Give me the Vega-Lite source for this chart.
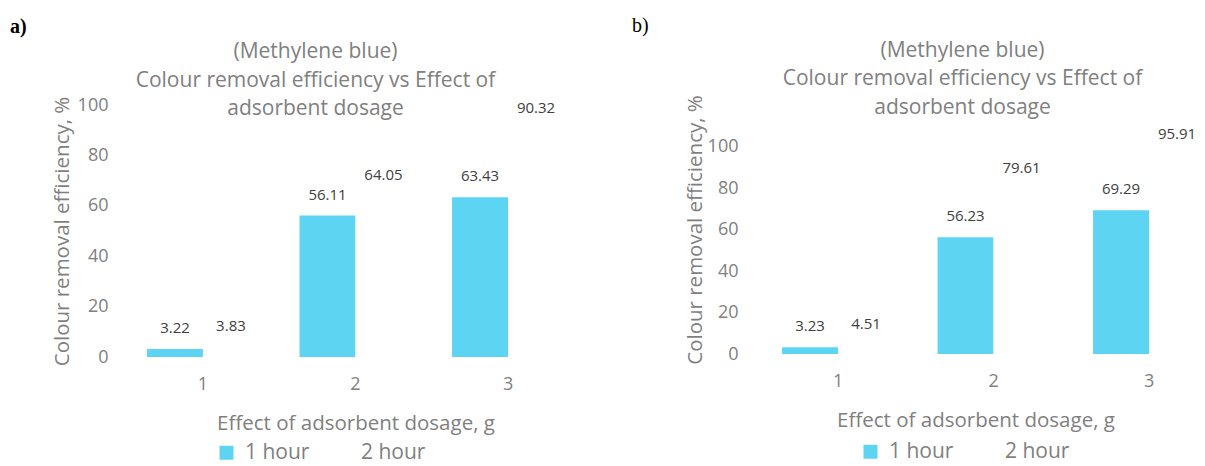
{
  "$schema": "https://vega.github.io/schema/vega-lite/v6.json",
  "background": "white",
  "padding": {"left": 10, "top": 15, "right": 0, "bottom": 0},
  "datasets": {
    "a": [
      {"dosage": 1, "time": "1 hour", "value": 3.22},
      {"dosage": 1, "time": "2 hour", "value": 3.83},
      {"dosage": 2, "time": "1 hour", "value": 56.11},
      {"dosage": 2, "time": "2 hour", "value": 64.05},
      {"dosage": 3, "time": "1 hour", "value": 63.43},
      {"dosage": 3, "time": "2 hour", "value": 90.32}
    ],
    "b": [
      {"dosage": 1, "time": "1 hour", "value": 3.23},
      {"dosage": 1, "time": "2 hour", "value": 4.51},
      {"dosage": 2, "time": "1 hour", "value": 56.23},
      {"dosage": 2, "time": "2 hour", "value": 79.61},
      {"dosage": 3, "time": "1 hour", "value": 69.29},
      {"dosage": 3, "time": "2 hour", "value": 95.91}
    ]
  },
  "config": {
    "view": {"stroke": null},
    "font": "Open Sans",
    "axis": {
      "grid": false, "domain": false, "ticks": false,
      "labelFont": "Open Sans", "titleFont": "Open Sans",
      "labelColor": "#808080", "titleColor": "#7f7f7f",
      "labelFontSize": 18, "titleFontSize": 20.5, "titleFontWeight": "normal"
    },
    "legend": {
      "orient": "none", "direction": "horizontal",
      "symbolType": "square", "symbolSize": 196, "symbolStrokeWidth": 0,
      "labelFont": "Open Sans", "labelFontSize": 21, "labelColor": "#7f7f7f",
      "labelOffset": 8, "columnPadding": 22
    },
    "concat": {"spacing": 37}
  },
  "resolve": {"legend": {"color": "independent"}},
  "hconcat": [
    {
      "title": {"text": "a)", "anchor": "start", "font": "Liberation Serif", "fontSize": 20, "fontWeight": "bold", "color": "#000000", "dx": -42, "offset": 4},
      "vconcat": [
        {
          "width": 479,
          "height": 252,
          "title": {"text": ["(Methylene blue)", "Colour removal efficiency vs Effect of", "adsorbent dosage"], "font": "Open Sans", "fontSize": 21, "lineHeight": 28.5, "color": "#808080", "fontWeight": "normal", "dx": -40, "offset": -23},
          "data": {"name": "a"},
          "encoding": {
            "x": {"field": "dosage", "type": "ordinal", "scale": {"paddingInner": 0.266, "paddingOuter": 0.203},
                  "axis": {"title": "Effect of adsorbent dosage, g", "labelAngle": 0, "labelPadding": 18, "titlePadding": 20}},
            "xOffset": {"field": "time", "type": "nominal"},
            "y": {"field": "value", "type": "quantitative", "scale": {"domain": [0, 100]},
                  "axis": {"title": "Colour removal efficiency, %", "values": [0, 20, 40, 60, 80, 100], "labelPadding": 8, "titlePadding": 5}}
          },
          "layer": [
            {"mark": {"type": "bar"},
             "encoding": {"color": {"field": "time", "type": "nominal", "scale": {"domain": ["1 hour", "2 hour"], "range": ["#5dd4f2", "#ffffff"]}, "legend": {"title": null, "legendX": 100, "legendY": 337}}}},
            {"mark": {"type": "text", "dy": -21, "fontSize": 15, "color": "#404040", "baseline": "middle", "font": "Open Sans"},
             "encoding": {"text": {"field": "value", "type": "quantitative", "format": ".2f"}}}
          ]
        }
      ]
    },
    {
      "title": {"text": "b)", "anchor": "start", "font": "Liberation Serif", "fontSize": 20, "fontWeight": "normal", "color": "#000000", "dx": -53, "offset": 4},
      "vconcat": [
        {
          "width": 459,
          "height": 249,
          "title": {"text": ["(Methylene blue)", "Colour removal efficiency vs Effect of", "adsorbent dosage"], "font": "Open Sans", "fontSize": 21, "lineHeight": 28.5, "color": "#808080", "fontWeight": "normal", "dx": -13, "offset": -23},
          "data": {"name": "b"},
          "encoding": {
            "x": {"field": "dosage", "type": "ordinal", "scale": {"paddingInner": 0.28, "paddingOuter": 0.116, "align": 1},
                  "axis": {"title": "Effect of adsorbent dosage, g", "labelAngle": 0, "labelPadding": 18, "titlePadding": 20}},
            "xOffset": {"field": "time", "type": "nominal"},
            "y": {"field": "value", "type": "quantitative", "scale": {"domain": [0, 120], "nice": false},
                  "axis": {"title": "Colour removal efficiency, %", "values": [0, 20, 40, 60, 80, 100], "labelPadding": 8, "titlePadding": 2}}
          },
          "layer": [
            {"mark": {"type": "bar"},
             "encoding": {"color": {"field": "time", "type": "nominal", "scale": {"domain": ["1 hour", "2 hour"], "range": ["#5dd4f2", "#ffffff"]}, "legend": {"title": null, "legendX": 114, "legendY": 336}}}},
            {"mark": {"type": "text", "dy": -21, "fontSize": 15, "color": "#404040", "baseline": "middle", "font": "Open Sans"},
             "encoding": {"text": {"field": "value", "type": "quantitative", "format": ".2f"}}}
          ]
        }
      ]
    }
  ]
}
